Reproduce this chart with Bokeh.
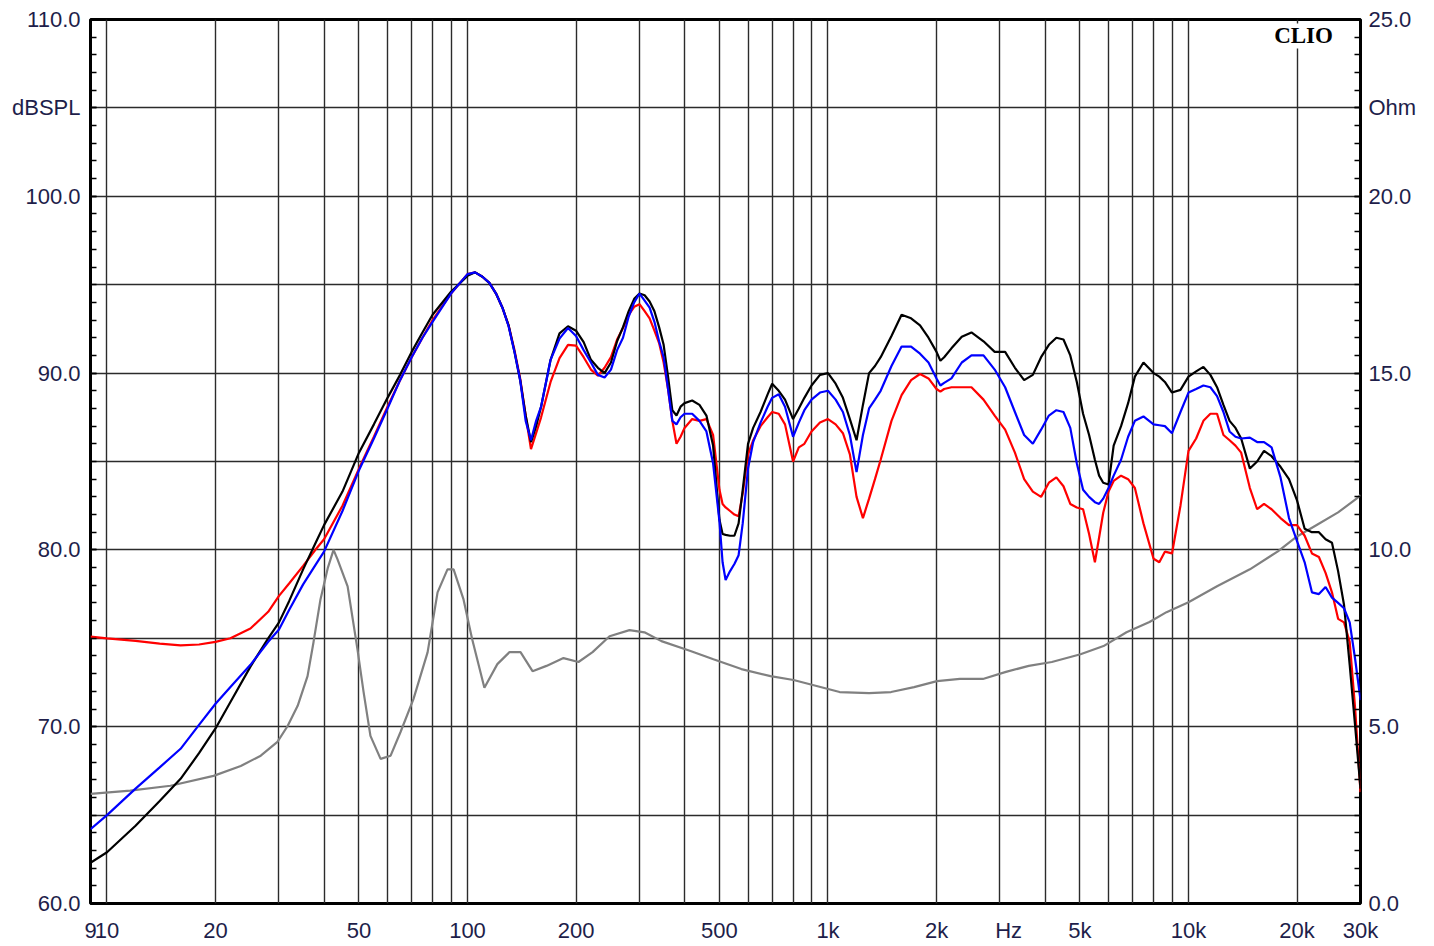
from bokeh.plotting import figure
from bokeh.models import Range1d, LinearAxis, FixedTicker, Label, AllLabels
from bokeh.embed import file_html
from bokeh.resources import INLINE

# ---------------- data ----------------
freq_hz = [9, 10, 12, 14, 16, 18, 20, 22, 25, 28,
           30, 32, 35, 38, 40, 45, 50, 55, 60, 65,
           70, 75, 80, 90, 100, 105, 110, 115, 120, 125,
           130, 135, 140, 145, 150, 155, 160, 170, 180, 190,
           200, 210, 220, 230, 240, 250, 260, 270, 280, 290,
           300, 310, 320, 330, 340, 350, 360, 370, 380, 390,
           400, 420, 440, 460, 480, 500, 510, 520, 535, 550,
           565, 580, 600, 620, 650, 680, 700, 730, 760, 800,
           830, 860, 900, 950, 1000, 1050, 1100, 1150, 1200, 1250,
           1300, 1350, 1400, 1500, 1600, 1700, 1800, 1900, 2000, 2050,
           2100, 2200, 2350, 2500, 2700, 2900, 3100, 3300, 3500, 3700,
           3900, 4100, 4300, 4500, 4700, 4900, 5100, 5300, 5500, 5650,
           5800, 6000, 6200, 6500, 6800, 7100, 7500, 8000, 8300, 8600,
           9000, 9500, 10000, 10500, 11000, 11500, 12000, 12500, 13000, 13500,
           14000, 14800, 15500, 16200, 17000, 18000, 19000, 20000, 21000, 22000,
           23000, 24000, 25000, 26000, 27000, 28000, 29000, 30000]

spl_black = [62.3, 62.9, 64.4, 65.8, 67.05, 68.5, 69.9, 71.4, 73.4, 75.0,
             75.9, 77.1, 78.9, 80.45, 81.4, 83.3, 85.5, 87.1, 88.6, 89.9,
             91.2, 92.3, 93.3, 94.6, 95.5, 95.7, 95.45, 95.1, 94.5, 93.7,
             92.7, 91.2, 89.6, 87.6, 86.1, 87.0, 88.1, 90.75, 92.25, 92.65,
             92.4, 91.75, 90.75, 90.3, 90.0, 90.6, 91.8, 92.6, 93.5, 94.2,
             94.5, 94.4, 94.05, 93.5, 92.6, 91.6, 89.8, 87.9, 87.6, 88.1,
             88.3, 88.45, 88.2, 87.6, 85.9, 81.7, 80.9, 80.85, 80.8, 80.8,
             81.5, 83.4, 86.0, 86.9, 87.8, 88.8, 89.4, 89.0, 88.5, 87.4,
             88.0, 88.6, 89.3, 89.9, 90.0, 89.4, 88.6, 87.4, 86.2, 88.2,
             90.0, 90.4, 90.9, 92.1, 93.3, 93.1, 92.7, 92.0, 91.2, 90.7,
             90.9, 91.4, 92.05, 92.3, 91.8, 91.2, 91.2, 90.3, 89.6, 89.9,
             90.9, 91.6, 92.0, 91.9, 91.0, 89.5, 87.7, 86.5, 85.1, 84.2,
             83.8, 83.7, 85.9, 87.0, 88.3, 89.8, 90.6, 90.0, 89.8, 89.5,
             88.9, 89.05, 89.8, 90.1, 90.35, 89.9, 89.2, 88.2, 87.3, 86.9,
             86.3, 84.6, 85.0, 85.6, 85.3, 84.7, 84.0, 82.8, 81.2, 81.0,
             81.0, 80.6, 80.4, 78.8, 76.9, 73.5, 70.0, 66.5]

spl_blue = [64.2, 65.0, 66.5, 67.7, 68.75, 70.1, 71.3, 72.25, 73.5, 74.8,
            75.5, 76.6, 78.05, 79.2, 79.9, 82.2, 84.5, 86.3, 88.0, 89.6,
            90.9, 92.0, 92.9, 94.5, 95.6, 95.7, 95.45, 95.1, 94.5, 93.7,
            92.65, 91.2, 89.6, 87.3, 86.2, 87.3, 88.1, 90.75, 91.95, 92.55,
            92.1, 91.3, 90.6, 89.9, 89.75, 90.2, 91.3, 92.0, 93.2, 94.0,
            94.5, 94.1, 93.7, 92.9, 91.8, 90.9, 89.1, 87.3, 87.1, 87.5,
            87.7, 87.7, 87.3, 86.7, 84.9, 81.6, 79.3, 78.3, 78.8, 79.2,
            79.7, 81.5, 84.6, 86.1, 87.2, 88.1, 88.6, 88.8, 88.1, 86.4,
            87.2, 87.9, 88.5, 88.9, 89.0, 88.5, 87.8, 86.5, 84.4, 86.5,
            88.0, 88.5, 89.0, 90.4, 91.5, 91.5, 91.1, 90.6, 89.7, 89.3,
            89.45, 89.7, 90.6, 91.0, 91.0, 90.2, 89.2, 87.8, 86.5, 86.0,
            86.8, 87.6, 87.9, 87.8, 86.9, 84.9, 83.4, 83.0, 82.7, 82.6,
            82.9, 83.5, 84.2, 85.1, 86.4, 87.3, 87.55, 87.1, 87.05, 87.0,
            86.6, 87.8, 88.9, 89.1, 89.3, 89.2, 88.7, 87.8, 86.7, 86.4,
            86.3, 86.35, 86.1, 86.1, 85.8, 84.1, 81.8, 80.5, 79.3, 77.6,
            77.5, 77.9, 77.3, 77.0, 76.7, 75.9, 73.8, 71.5]

spl_red = [75.1, 75.0, 74.85, 74.7, 74.6, 74.65, 74.8, 75.0, 75.55, 76.5,
           77.4, 78.1, 79.1, 80.05, 80.6, 82.5, 84.6, 86.4, 88.1, 89.6,
           90.9, 92.0, 93.0, 94.5, 95.6, 95.7, 95.45, 95.1, 94.5, 93.7,
           92.7, 91.3, 89.7, 87.6, 85.7, 86.6, 87.5, 89.5, 90.85, 91.6,
           91.55, 90.9, 90.2, 89.85, 90.3, 90.9, 91.9, 92.55, 93.3, 93.75,
           93.9, 93.5, 93.1, 92.4, 91.7, 90.6, 89.1, 87.3, 86.0, 86.4,
           86.9, 87.4, 87.3, 87.4, 86.5, 83.4, 82.6, 82.4, 82.2, 82.0,
           81.9, 83.2, 85.4, 86.2, 87.0, 87.5, 87.8, 87.7, 87.1, 85.0,
           85.8, 86.0, 86.7, 87.2, 87.4, 87.1, 86.6, 85.4, 83.0, 81.8,
           82.9, 84.0, 85.1, 87.3, 88.75, 89.6, 89.95, 89.7, 89.1, 88.95,
           89.1, 89.2, 89.2, 89.2, 88.5, 87.6, 86.8, 85.5, 84.0, 83.3,
           83.0, 83.8, 84.1, 83.6, 82.6, 82.4, 82.3, 80.9, 79.3, 80.7,
           82.1, 83.3, 83.9, 84.2, 84.0, 83.5, 81.5, 79.5, 79.3, 79.9,
           79.8, 82.5, 85.6, 86.3, 87.3, 87.7, 87.7, 86.5, 86.2, 85.9,
           85.5, 83.5, 82.3, 82.6, 82.3, 81.8, 81.4, 81.4, 80.8, 79.8,
           79.6, 78.7, 77.6, 76.1, 75.9, 74.8, 71.0, 66.3]

imp_freq_hz = [9, 11.6, 15.0, 19.75, 23.5, 26.7, 29.7, 31.7, 33.8, 36.0,
               37.4, 39.1, 41, 42.5, 43.6, 46.5, 49.5, 51.5, 53.8, 57.4,
               61.2, 65.2, 70.8, 77.5, 82.6, 88.0, 91.5, 97.5, 103, 111.4,
               121, 130.8, 140.3, 151.5, 165.6, 184.6, 203.2, 222.3, 247.8, 281.4,
               309.7, 345, 415.5, 481, 575, 692.6, 802.5, 930, 1077, 1300,
               1496, 1733, 2006, 2322, 2690, 3116, 3605, 4177, 5018, 5811,
               6730, 7795, 8690, 10000, 12000, 14800, 17700, 20000, 22800, 26000,
               29500, 30000]
imp_ohm = [3.10, 3.19, 3.33, 3.61, 3.89, 4.18, 4.57, 5.02, 5.59, 6.43,
           7.39, 8.6, 9.5, 10.0, 9.73, 8.97, 7.2, 5.98, 4.74, 4.09,
           4.18, 4.85, 5.78, 7.1, 8.8, 9.45, 9.45, 8.6, 7.48, 6.1,
           6.77, 7.11, 7.11, 6.57, 6.72, 6.94, 6.83, 7.11, 7.56, 7.73,
           7.67, 7.42, 7.14, 6.91, 6.63, 6.43, 6.32, 6.15, 5.98, 5.95,
           5.98, 6.12, 6.29, 6.35, 6.35, 6.55, 6.72, 6.83, 7.05, 7.28,
           7.67, 7.96, 8.24, 8.52, 8.97, 9.45, 9.96, 10.38, 10.72, 11.06,
           11.48, 11.55]

x_label_ticks = [9, 10, 20, 50, 100, 200, 500, 1000, 2000, 3170, 5000, 10000, 20000, 30000]
x_label_text = ["9", "10", "20", "50", "100", "200", "500", "1k", "2k", "Hz", "5k", "10k", "20k", "30k"]
x_grid_ticks = [10, 20, 30, 40, 50, 60, 70, 80, 90,
                100, 200, 300, 400, 500, 600, 700, 800, 900,
                1000, 2000, 3000, 4000, 5000, 6000, 7000, 8000, 9000,
                10000, 20000]
db_label_ticks = [60, 70, 80, 90, 100, 105, 110]
db_label_text = ["60.0", "70.0", "80.0", "90.0", "100.0", "dBSPL", "110.0"]
ohm_label_ticks = [0, 5, 10, 15, 20, 22.5, 25]
ohm_label_text = ["0.0", "5.0", "10.0", "15.0", "20.0", "Ohm", "25.0"]
db_grid_ticks = [65, 70, 75, 80, 85, 90, 95, 100, 105]

# ---------------- figure ----------------
LABEL_COLOR = "#1e1e4a"
FONT = "Liberation Sans"

p = figure(width=1426, height=945, x_axis_type="log",
           x_range=Range1d(9, 30000), y_range=Range1d(60, 110),
           output_backend="svg", toolbar_location=None,
           min_border_left=90, min_border_right=66,
           min_border_top=19, min_border_bottom=40)
p.extra_y_ranges = {"ohm": Range1d(0, 25)}
p.background_fill_color = "white"
p.border_fill_color = "white"
p.outline_line_color = "black"
p.outline_line_width = 3

p.xgrid.ticker = FixedTicker(ticks=x_grid_ticks)
p.ygrid.ticker = FixedTicker(ticks=db_grid_ticks)
for g in (p.xgrid, p.ygrid):
    g.grid_line_color = "#2b2b2b"
    g.grid_line_width = 1.4

# bottom axis
xa = p.xaxis[0]
xa.ticker = FixedTicker(ticks=x_label_ticks, minor_ticks=[])
xa.major_label_overrides = {t: s for t, s in zip(x_label_ticks, x_label_text)}
xa.major_label_policy = AllLabels()
xa.major_tick_in = 0
xa.major_tick_out = 0
xa.minor_tick_in = 0
xa.minor_tick_out = 0
xa.axis_line_color = None
xa.major_label_standoff = 14
xa.major_label_text_font = FONT
xa.major_label_text_font_size = "22px"
xa.major_label_text_color = LABEL_COLOR

# left axis
ya = p.yaxis[0]
ya.ticker = FixedTicker(ticks=db_label_ticks, minor_ticks=list(range(60, 111)))
ya.major_label_overrides = {t: s for t, s in zip(db_label_ticks, db_label_text)}
ya.major_label_policy = AllLabels()

# right axis
ra = LinearAxis(y_range_name="ohm",
                ticker=FixedTicker(ticks=ohm_label_ticks,
                                   minor_ticks=[i * 0.5 for i in range(0, 51)]))
ra.major_label_overrides = {t: s for t, s in zip(ohm_label_ticks, ohm_label_text)}
ra.major_label_policy = AllLabels()
p.add_layout(ra, "right")

for ax in (ya, ra):
    ax.major_tick_in = 6
    ax.major_tick_out = 0
    ax.minor_tick_in = 6
    ax.minor_tick_out = 0
    ax.major_tick_line_color = "black"
    ax.minor_tick_line_color = "black"
    ax.major_tick_line_width = 1.5
    ax.minor_tick_line_width = 1.5
    ax.axis_line_color = None
    ax.major_label_text_font = FONT
    ax.major_label_text_font_size = "22px"
    ax.major_label_text_color = LABEL_COLOR
ya.major_label_standoff = 10
ra.major_label_standoff = 8

# curves
p.line(imp_freq_hz, imp_ohm, y_range_name="ohm", line_color="#808080", line_width=2.2)
p.line(freq_hz, spl_red, line_color="#ff0000", line_width=2.2)
p.line(freq_hz, spl_black, line_color="#000000", line_width=2.2)
p.line(freq_hz, spl_blue, line_color="#0000ff", line_width=2.2)

clio = Label(x=20850, y=109.07, text="CLIO", text_align="center", text_baseline="middle",
             text_font="Liberation Serif", text_font_style="bold", text_font_size="23px",
             text_color="black", background_fill_color="white", background_fill_alpha=1.0)
p.add_layout(clio)

open("out.html", "w").write(file_html(p, INLINE))
